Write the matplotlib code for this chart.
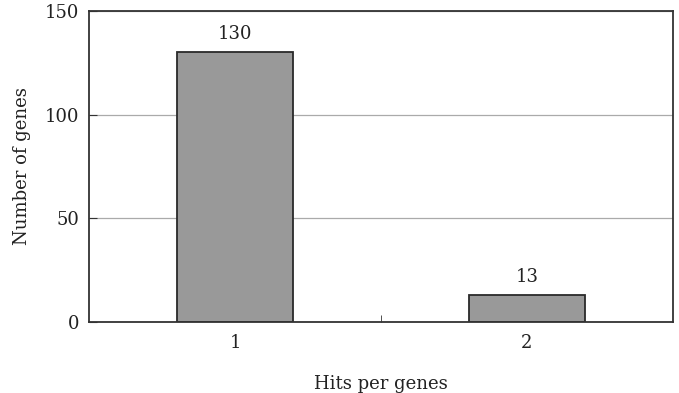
import matplotlib.pyplot as plt

# data
hits = [1, 2]
genes = [130, 13]
yticks = [0, 50, 100, 150]

plt.rcParams['font.family'] = ['DejaVu Serif']

fig = plt.figure(figsize=(6.79, 3.93), dpi=100)
ax = fig.add_axes([89 / 679, 1 - 322 / 393, 584 / 679, 311 / 393])

ax.bar(hits, genes, width=0.4, color='#999999', edgecolor='#2a2a2a',
       linewidth=1.3, zorder=2)
for x, v in zip(hits, genes):
    ax.text(x, v + 4.5, str(v), ha='center', va='bottom', fontsize=13,
            color='#222222')

ax.set_xlim(0.5, 2.5)
ax.set_ylim(0, 150)
ax.set_yticks(yticks)
ax.set_xticks(hits)
ax.set_xticks([1.5], minor=True)
ax.tick_params(axis='x', which='major', length=0, pad=9, labelsize=13,
               labelcolor='#222222')
ax.tick_params(axis='x', which='minor', direction='in', length=5,
               color='#333333')
ax.tick_params(axis='y', direction='in', length=6, labelsize=13,
               color='#333333', labelcolor='#222222', pad=7)
ax.grid(axis='y', color='#aaaaaa', linewidth=0.9, zorder=0)
for s in ax.spines.values():
    s.set_color('#333333')
    s.set_linewidth(1.3)

ax.set_ylabel('Number of genes', fontsize=13, labelpad=10, color='#222222')
ax.set_xlabel('Hits per genes', fontsize=13, labelpad=16, color='#222222')

fig.savefig('out.png', dpi=100)
